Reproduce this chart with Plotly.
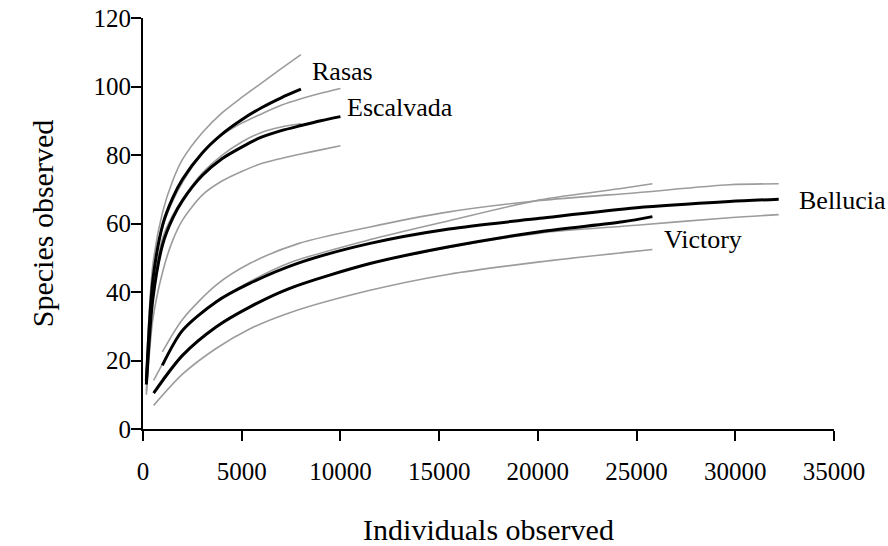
import plotly.graph_objects as go

# Rarefaction curves: mean species observed with upper / lower bounds
rasas_x = [170, 500, 1000, 1500, 2000, 3000, 4000, 5000, 6000, 7000, 8000]
rasas_mean = [14, 43.5, 59.7, 67.4, 72.9, 80.6, 86.1, 90.3, 93.8, 96.7, 99.2]
rasas_upper = [17, 48, 63.5, 72.4, 78.7, 86.5, 92.3, 96.8, 101, 105.2, 109.3]
rasas_lower = [11, 39, 55.9, 62.4, 67.1, 74.7, 79.9, 83.8, 86.6, 88.2, 89.1]

escalvada_x = [170, 500, 1000, 1500, 2000, 3000, 4000, 5000, 6000, 7000, 8000, 9000, 10000]
escalvada_mean = [13, 38, 54, 61.5, 66.7, 74, 78.9, 82.3, 85.2, 87.1, 88.6, 90, 91.2]
escalvada_upper = [16, 44, 59, 66.5, 72, 80.5, 85.8, 89.3, 92, 94.5, 96.4, 98, 99.4]
escalvada_lower = [10, 32, 46, 55, 61, 68.3, 72.4, 75.2, 77.5, 79, 80.3, 81.5, 82.7]

bellucia_x = [980, 2000, 3700, 5400, 7900, 11500, 15500, 20100, 25000, 29700, 32200]
bellucia_mean = [18.6, 28.8, 37.1, 42.5, 48.5, 54.2, 58.4, 61.5, 64.6, 66.4, 67.1]
bellucia_upper = [22.5, 32, 42, 48.3, 54.2, 59, 63.4, 66.7, 69, 71.3, 71.6]
bellucia_lower = [14.5, 21.5, 29.8, 35.6, 42, 48.3, 53, 57.2, 59.5, 61.7, 62.6]

victory_x = [540, 2000, 3700, 5400, 7400, 11500, 15500, 20100, 24300, 25800]
victory_mean = [10.5, 21.5, 29.8, 35.6, 41, 48.3, 53.2, 57.6, 60.5, 62]
victory_upper = [14.2, 28.5, 37, 43, 48.5, 55.3, 60.8, 66.9, 70.3, 71.6]
victory_lower = [6.9, 16, 23.5, 29.2, 33.9, 40.5, 45.2, 48.8, 51.5, 52.4]

x_ticks = [0, 5000, 10000, 15000, 20000, 25000, 30000, 35000]
y_ticks = [0, 20, 40, 60, 80, 100, 120]

site_names = ["Rasas", "Escalvada", "Bellucia", "Victory"]
label_x = [8440, 10220, 33110, 26270]
label_y = [104.3, 93.8, 66.6, 55.2]

sites = [
    (rasas_x, rasas_mean, rasas_upper, rasas_lower),
    (escalvada_x, escalvada_mean, escalvada_upper, escalvada_lower),
    (bellucia_x, bellucia_mean, bellucia_upper, bellucia_lower),
    (victory_x, victory_mean, victory_upper, victory_lower),
]

FONT = "Liberation Serif"
GRAY = "#9c9c9c"
SMOOTH = 0.8

fig = go.Figure()

# bounds first so the mean curves sit on top
for xs, mean, upper, lower in sites:
    for ys in (upper, lower):
        fig.add_trace(go.Scatter(x=xs, y=ys, mode="lines",
                                 line=dict(color=GRAY, width=1.6, shape="spline", smoothing=SMOOTH),
                                 hoverinfo="skip", showlegend=False))
for (xs, mean, upper, lower), name in zip(sites, site_names):
    fig.add_trace(go.Scatter(x=xs, y=mean, mode="lines", name=name,
                             line=dict(color="black", width=3, shape="spline", smoothing=SMOOTH),
                             showlegend=False))

for name, lx, ly in zip(site_names, label_x, label_y):
    fig.add_annotation(x=lx, y=ly, text=name, showarrow=False,
                       xanchor="left", yanchor="middle",
                       font=dict(family=FONT, size=26, color="black"))

axis_common = dict(
    showline=True, linecolor="black", linewidth=2,
    ticks="outside", ticklen=10, tickwidth=2, tickcolor="black",
    showgrid=False, zeroline=False, automargin=False,
    tickfont=dict(family=FONT, size=25, color="black"),
)

fig.update_xaxes(range=[0, 35000], tickvals=x_ticks, ticktext=[str(v) for v in x_ticks],
                 ticklabelstandoff=9,
                 title=dict(text="Individuals observed", font=dict(family=FONT, size=30, color="black"),
                            standoff=35),
                 **axis_common)
fig.update_yaxes(range=[0, 120], tickvals=y_ticks, ticktext=[str(v) for v in y_ticks],
                 ticklabelstandoff=-5,
                 title=dict(text="Species observed", font=dict(family=FONT, size=30, color="black"),
                            standoff=31),
                 **axis_common)

fig.update_layout(
    width=888, height=546,
    margin=dict(l=143, r=54, t=18, b=117),
    plot_bgcolor="white", paper_bgcolor="white",
)

fig.write_html("out.html")
